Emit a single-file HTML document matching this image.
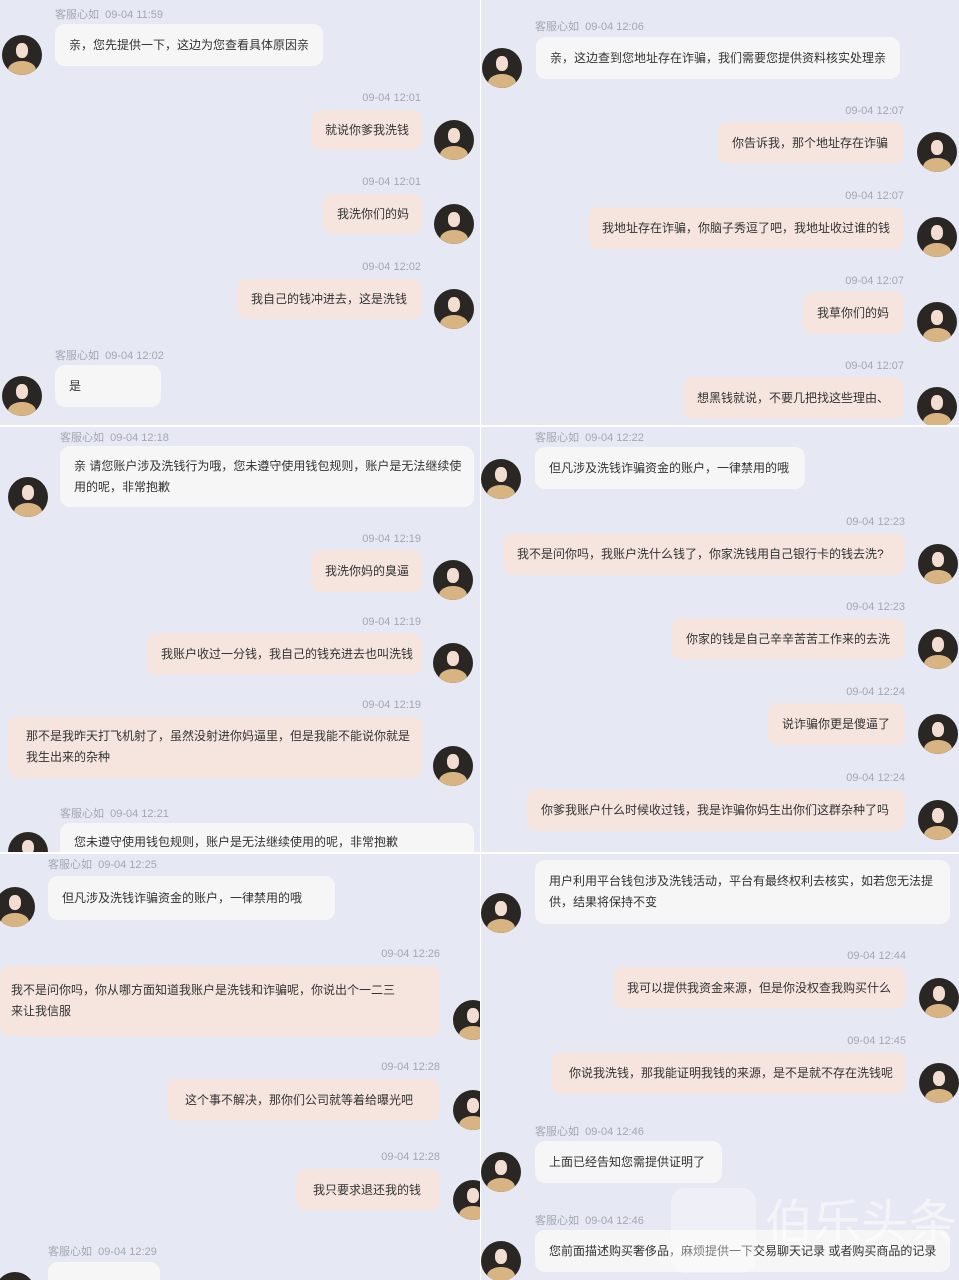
<!DOCTYPE html>
<html><head><meta charset="utf-8"><style>
*{margin:0;padding:0;box-sizing:border-box}
body{width:959px;height:1280px;overflow:hidden;background:#fff;font-family:"Liberation Sans","Noto Sans CJK SC",sans-serif;position:relative}
.p{position:absolute;background:#e6e9f3;overflow:hidden}
.t{position:absolute;font-size:11px;color:#a3a7b3;white-space:nowrap}
.b{position:absolute;font-size:12px;color:#333;border-radius:10px;display:flex;align-items:center;padding:0 12px 0 14px;line-height:21px;white-space:nowrap}
.g{background:#f6f6f7}
.u{background:#f6e5df}
.a{position:absolute;width:40px;height:40px;border-radius:50%;background:#2a2623;overflow:hidden}
.a::before{content:"";position:absolute;left:14px;top:8px;width:12px;height:15px;border-radius:45%;background:#f3ddd0}
.a::after{content:"";position:absolute;left:6px;top:26px;width:28px;height:18px;border-radius:50% 50% 0 0;background:#d9b483}
</style></head><body>

<!-- Panel 1 -->
<div class="p" style="left:0;top:0;width:480px;height:425px">
<div class="t" style="left:55px;top:6px">客服心如&nbsp;&nbsp;09-04 11:59</div>
<div class="b g" style="left:55px;top:24px;width:268px;height:42px">亲，您先提供一下，这边为您查看具体原因亲</div>
<div class="a" style="left:2px;top:35px"></div>
<div class="t" style="left:321px;top:92px;width:100px;text-align:right">09-04 12:01</div>
<div class="b u" style="left:311px;top:110px;width:111px;height:40px">就说你爹我洗钱</div>
<div class="a" style="left:434px;top:120px"></div>
<div class="t" style="left:321px;top:176px;width:100px;text-align:right">09-04 12:01</div>
<div class="b u" style="left:323px;top:194px;width:99px;height:40px">我洗你们的妈</div>
<div class="a" style="left:434px;top:204px"></div>
<div class="t" style="left:321px;top:261px;width:100px;text-align:right">09-04 12:02</div>
<div class="b u" style="left:237px;top:279px;width:185px;height:40px">我自己的钱冲进去，这是洗钱</div>
<div class="a" style="left:434px;top:289px"></div>
<div class="t" style="left:55px;top:347px">客服心如&nbsp;&nbsp;09-04 12:02</div>
<div class="b g" style="left:55px;top:365px;width:106px;height:42px">是</div>
<div class="a" style="left:2px;top:376px"></div>
</div>

<!-- Panel 2 -->
<div class="p" style="left:481px;top:0;width:478px;height:425px">
<div class="t" style="left:54px;top:18px">客服心如&nbsp;&nbsp;09-04 12:06</div>
<div class="b g" style="left:55px;top:37px;width:364px;height:42px">亲，这边查到您地址存在诈骗，我们需要您提供资料核实处理亲</div>
<div class="a" style="left:1px;top:48px"></div>
<div class="t" style="left:323px;top:105px;width:100px;text-align:right">09-04 12:07</div>
<div class="b u" style="left:237px;top:122px;width:186px;height:42px">你告诉我，那个地址存在诈骗</div>
<div class="a" style="left:436px;top:132px"></div>
<div class="t" style="left:323px;top:190px;width:100px;text-align:right">09-04 12:07</div>
<div class="b u" style="left:107px;top:207px;width:316px;height:42px">我地址存在诈骗，你脑子秀逗了吧，我地址收过谁的钱</div>
<div class="a" style="left:436px;top:217px"></div>
<div class="t" style="left:323px;top:275px;width:100px;text-align:right">09-04 12:07</div>
<div class="b u" style="left:322px;top:292px;width:101px;height:42px">我草你们的妈</div>
<div class="a" style="left:436px;top:302px"></div>
<div class="t" style="left:323px;top:360px;width:100px;text-align:right">09-04 12:07</div>
<div class="b u" style="left:202px;top:377px;width:221px;height:42px">想黑钱就说，不要几把找这些理由、</div>
<div class="a" style="left:436px;top:387px"></div>
</div>

<!-- Panel 3 -->
<div class="p" style="left:0;top:427px;width:480px;height:425px">
<div class="t" style="left:60px;top:2px">客服心如&nbsp;&nbsp;09-04 12:18</div>
<div class="b g" style="left:60px;top:19px;width:414px;height:61px">亲 请您账户涉及洗钱行为哦，您未遵守使用钱包规则，账户是无法继续使<br>用的呢，非常抱歉</div>
<div class="a" style="left:8px;top:50px"></div>
<div class="t" style="left:321px;top:106px;width:100px;text-align:right">09-04 12:19</div>
<div class="b u" style="left:311px;top:123px;width:111px;height:42px">我洗你妈的臭逼</div>
<div class="a" style="left:433px;top:133px"></div>
<div class="t" style="left:321px;top:189px;width:100px;text-align:right">09-04 12:19</div>
<div class="b u" style="left:147px;top:206px;width:275px;height:42px">我账户收过一分钱，我自己的钱充进去也叫洗钱</div>
<div class="a" style="left:433px;top:216px"></div>
<div class="t" style="left:321px;top:272px;width:100px;text-align:right">09-04 12:19</div>
<div class="b u" style="left:8px;top:289px;width:414px;height:62px;padding-left:18px">那不是我昨天打飞机射了，虽然没射进你妈逼里，但是我能不能说你就是<br>我生出来的杂种</div>
<div class="a" style="left:433px;top:319px"></div>
<div class="t" style="left:60px;top:378px">客服心如&nbsp;&nbsp;09-04 12:21</div>
<div class="b g" style="left:60px;top:396px;width:414px;height:42px;align-items:flex-start;padding-top:9px">您未遵守使用钱包规则，账户是无法继续使用的呢，非常抱歉</div>
<div class="a" style="left:8px;top:405px"></div>
</div>

<!-- Panel 4 -->
<div class="p" style="left:481px;top:427px;width:478px;height:425px">
<div class="t" style="left:54px;top:2px">客服心如&nbsp;&nbsp;09-04 12:22</div>
<div class="b g" style="left:54px;top:20px;width:270px;height:42px">但凡涉及洗钱诈骗资金的账户，一律禁用的哦</div>
<div class="a" style="left:0px;top:32px"></div>
<div class="t" style="left:324px;top:89px;width:100px;text-align:right">09-04 12:23</div>
<div class="b u" style="left:22px;top:106px;width:402px;height:42px">我不是问你吗，我账户洗什么钱了，你家洗钱用自己银行卡的钱去洗?</div>
<div class="a" style="left:437px;top:117px"></div>
<div class="t" style="left:324px;top:174px;width:100px;text-align:right">09-04 12:23</div>
<div class="b u" style="left:191px;top:191px;width:233px;height:42px">你家的钱是自己辛辛苦苦工作来的去洗</div>
<div class="a" style="left:437px;top:202px"></div>
<div class="t" style="left:324px;top:259px;width:100px;text-align:right">09-04 12:24</div>
<div class="b u" style="left:287px;top:276px;width:137px;height:42px">说诈骗你更是傻逼了</div>
<div class="a" style="left:437px;top:287px"></div>
<div class="t" style="left:324px;top:345px;width:100px;text-align:right">09-04 12:24</div>
<div class="b u" style="left:46px;top:362px;width:378px;height:42px">你爹我账户什么时候收过钱，我是诈骗你妈生出你们这群杂种了吗</div>
<div class="a" style="left:437px;top:373px"></div>
</div>

<!-- Panel 5 -->
<div class="p" style="left:0;top:854px;width:480px;height:426px">
<div class="t" style="left:48px;top:2px">客服心如&nbsp;&nbsp;09-04 12:25</div>
<div class="b g" style="left:48px;top:22px;width:287px;height:44px">但凡涉及洗钱诈骗资金的账户，一律禁用的哦</div>
<div class="a" style="left:-5px;top:33px"></div>
<div class="t" style="left:340px;top:94px;width:100px;text-align:right">09-04 12:26</div>
<div class="b u" style="left:0px;top:112px;width:440px;height:70px;padding-left:11px">我不是问你吗，你从哪方面知道我账户是洗钱和诈骗呢，你说出个一二三<br>来让我信服</div>
<div class="a" style="left:453px;top:146px"></div>
<div class="t" style="left:340px;top:207px;width:100px;text-align:right">09-04 12:28</div>
<div class="b u" style="left:167px;top:225px;width:273px;height:42px;padding-left:18px">这个事不解决，那你们公司就等着给曝光吧</div>
<div class="a" style="left:453px;top:236px"></div>
<div class="t" style="left:340px;top:297px;width:100px;text-align:right">09-04 12:28</div>
<div class="b u" style="left:296px;top:315px;width:144px;height:42px;padding-left:17px">我只要求退还我的钱</div>
<div class="a" style="left:453px;top:326px"></div>
<div class="t" style="left:48px;top:389px">客服心如&nbsp;&nbsp;09-04 12:29</div>
<div class="b g" style="left:48px;top:408px;width:112px;height:42px"></div>
<div class="a" style="left:-5px;top:418px"></div>
</div>

<!-- Panel 6 -->
<div class="p" style="left:481px;top:854px;width:478px;height:426px">
<div class="b g" style="left:54px;top:6px;width:415px;height:64px">用户利用平台钱包涉及洗钱活动，平台有最终权利去核实，如若您无法提<br>供，结果将保持不变</div>
<div class="a" style="left:0px;top:39px"></div>
<div class="t" style="left:325px;top:96px;width:100px;text-align:right">09-04 12:44</div>
<div class="b u" style="left:132px;top:113px;width:293px;height:42px">我可以提供我资金来源，但是你没权查我购买什么</div>
<div class="a" style="left:438px;top:124px"></div>
<div class="t" style="left:325px;top:181px;width:100px;text-align:right">09-04 12:45</div>
<div class="b u" style="left:71px;top:198px;width:354px;height:42px;padding-left:17px">你说我洗钱，那我能证明我钱的来源，是不是就不存在洗钱呢</div>
<div class="a" style="left:438px;top:209px"></div>
<div class="t" style="left:54px;top:269px">客服心如&nbsp;&nbsp;09-04 12:46</div>
<div class="b g" style="left:54px;top:287px;width:187px;height:42px">上面已经告知您需提供证明了</div>
<div class="a" style="left:0px;top:298px"></div>
<div class="t" style="left:54px;top:358px">客服心如&nbsp;&nbsp;09-04 12:46</div>
<div class="b g" style="left:54px;top:376px;width:415px;height:42px">您前面描述购买奢侈品，麻烦提供一下交易聊天记录 或者购买商品的记录</div>
<div class="a" style="left:0px;top:387px"></div>
<div style="position:absolute;left:190px;top:334px;width:85px;height:85px;border-radius:14px;background:rgba(255,255,255,0.35)"></div>
<div style="position:absolute;left:284px;top:334px;font-size:48px;color:rgba(255,255,255,0.5);white-space:nowrap;font-family:'Noto Sans CJK SC',sans-serif;line-height:60px">伯乐头条</div>
</div>

</body></html>
